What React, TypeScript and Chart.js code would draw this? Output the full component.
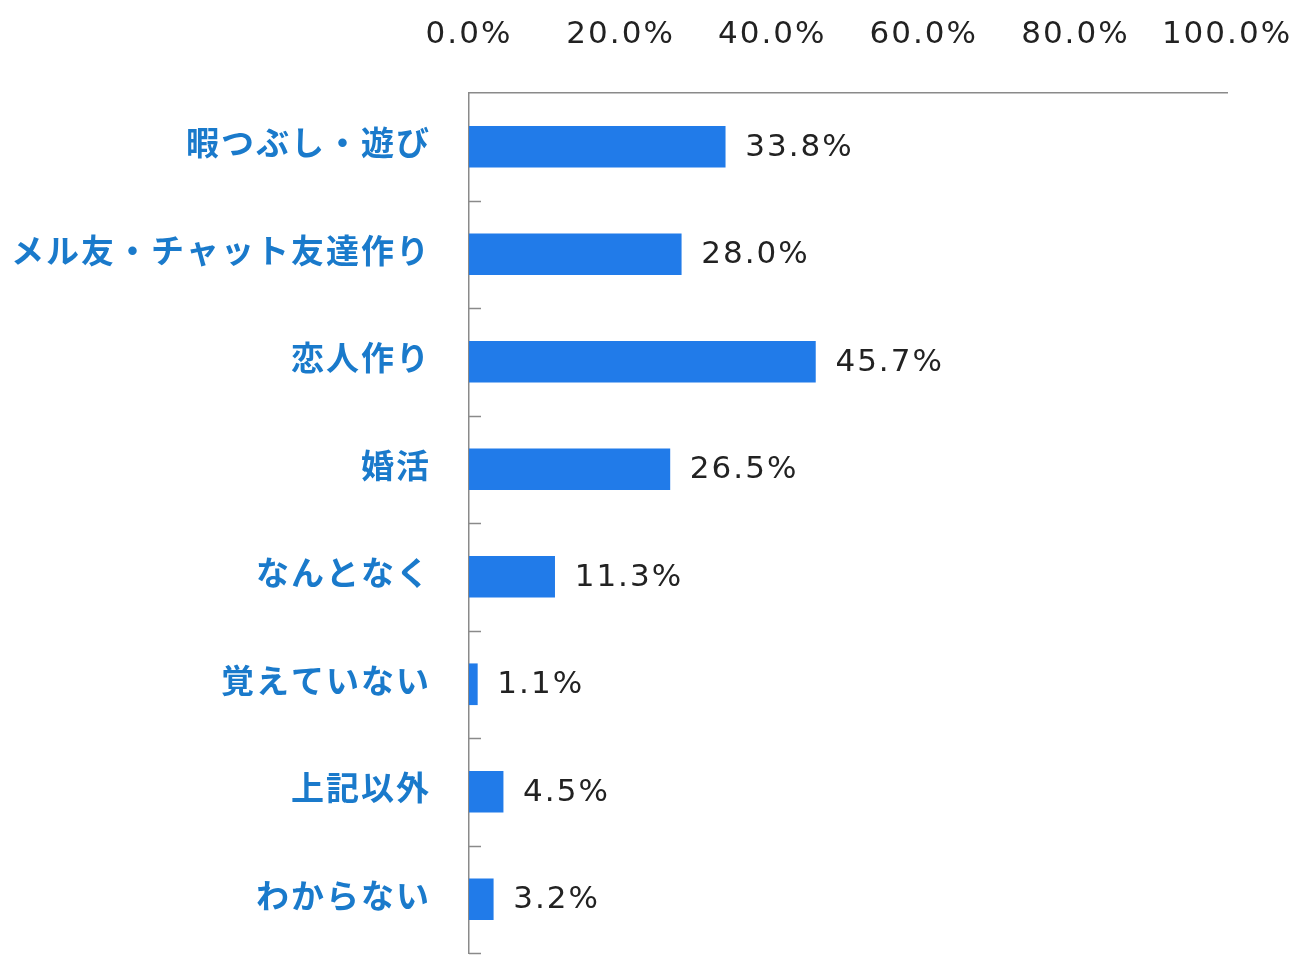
import React, { useEffect, useRef } from "react";
import { Chart, registerables } from "chart.js";

Chart.register(...registerables);

const categories = [
  "暇つぶし・遊び",
  "メル友・チャット友達作り",
  "恋人作り",
  "婚活",
  "なんとなく",
  "覚えていない",
  "上記以外",
  "わからない",
];
const values = [33.8, 28.0, 45.7, 26.5, 11.3, 1.1, 4.5, 3.2];
const xTicks = [0, 20, 40, 60, 80, 100];

const NUM_FONT = "'DejaVu Sans', Verdana, sans-serif";
const SPACING = "2px";

const spacingPlugin = {
  id: "spacing",
  beforeLayout(chart: any) {
    chart.ctx.letterSpacing = SPACING;
  },
  beforeDraw(chart: any) {
    chart.ctx.letterSpacing = SPACING;
  },
};

const valueLabelPlugin = {
  id: "valueLabels",
  afterDatasetsDraw(chart: any) {
    const ctx = chart.ctx;
    const meta = chart.getDatasetMeta(0);
    ctx.save();
    ctx.letterSpacing = SPACING;
    ctx.font = `31px ${NUM_FONT}`;
    ctx.fillStyle = "#222222";
    ctx.textAlign = "left";
    ctx.textBaseline = "middle";
    meta.data.forEach((bar: any, i: number) => {
      ctx.fillText(values[i].toFixed(1) + "%", bar.x + 20, bar.y + 1);
    });
    ctx.restore();
  },
};

const innerTickPlugin = {
  id: "innerTicks",
  afterDraw(chart: any) {
    const ctx = chart.ctx;
    const { left, top, bottom } = chart.chartArea;
    const n = categories.length;
    const step = (bottom - top) / n;
    ctx.save();
    ctx.strokeStyle = "#8a8a8a";
    ctx.lineWidth = 1.5;
    for (let i = 1; i <= n; i++) {
      const yy = Math.round(top + step * i) + 0.5;
      ctx.beginPath();
      ctx.moveTo(left, yy);
      ctx.lineTo(left + 12, yy);
      ctx.stroke();
    }
    ctx.restore();
  },
};

export default function App() {
  const ref = useRef<HTMLCanvasElement>(null);
  useEffect(() => {
    if (!ref.current) return;
    const chart = new Chart(ref.current, {
      type: "bar",
      data: {
        labels: categories,
        datasets: [
          {
            data: values,
            backgroundColor: "#217be9",
            borderWidth: 0,
            barThickness: 41,
          },
        ],
      },
      plugins: [spacingPlugin, valueLabelPlugin, innerTickPlugin],
      options: {
        indexAxis: "y",
        animation: false,
        responsive: false,
        maintainAspectRatio: false,
        layout: { padding: { left: 0, right: 74, top: 0, bottom: 11 } },
        plugins: { legend: { display: false }, tooltip: { enabled: false } },
        scales: {
          x: {
            position: "top",
            min: 0,
            max: 100,
            afterBuildTicks(scale: any) {
              scale.ticks = xTicks.map((v) => ({ value: v }));
            },
            afterFit(scale: any) {
              scale.height = 93;
              scale.paddingLeft = 0;
              scale.paddingRight = 0;
              scale.paddingTop = 0;
              scale.paddingBottom = 0;
            },
            grid: { display: false, drawTicks: false },
            border: { display: true, color: "#8a8a8a", width: 1.5 },
            ticks: {
              padding: 39,
              color: "#222222",
              font: { family: NUM_FONT, size: 31 },
              callback: (v: any) => Number(v).toFixed(1) + "%",
            },
          },
          y: {
            afterFit(scale: any) {
              scale.width = 469;
              scale.paddingLeft = 0;
              scale.paddingRight = 0;
              scale.paddingTop = 0;
              scale.paddingBottom = 0;
            },
            grid: { display: false, drawTicks: false },
            border: { display: true, color: "#8a8a8a", width: 1.5 },
            ticks: {
              padding: 38,
              labelOffset: -4,
              color: "#1a7acb",
              font: { family: "'Noto Sans CJK JP', sans-serif", size: 33, weight: "bold" },
            },
          },
        },
      },
    });
    return () => chart.destroy();
  }, []);
  return (
    <div style={{ position: "absolute", left: 0, top: 0, width: 1301, height: 964, background: "#fff" }}>
      <canvas ref={ref} width={1301} height={964} style={{ width: 1301, height: 964 }} />
    </div>
  );
}
